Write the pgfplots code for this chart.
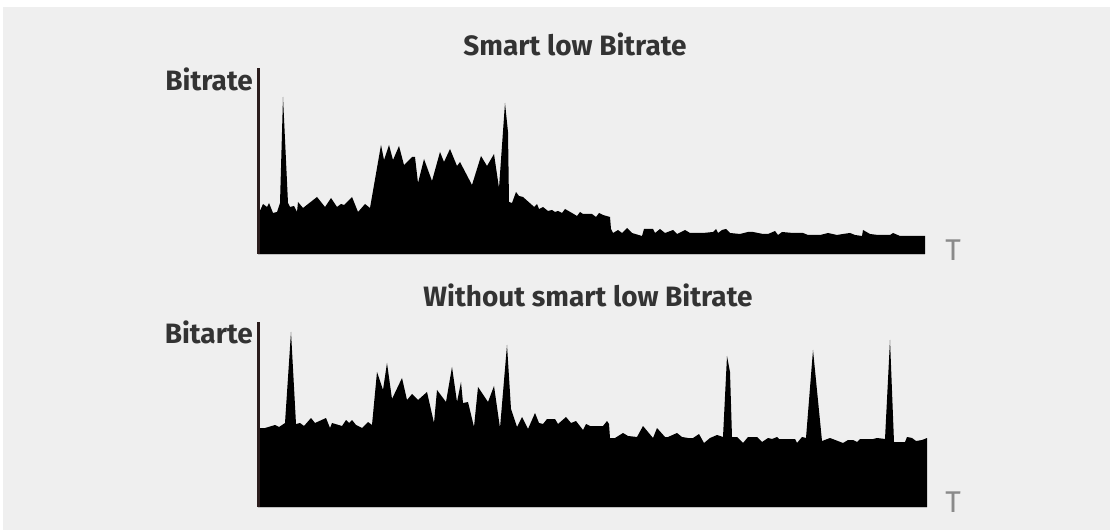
\documentclass[border=0pt]{standalone}
\usepackage{pgfplots}
\pgfplotsset{compat=1.18}
\usepackage{fontspec}
\setmainfont{Fira Sans}
\definecolor{bggray}{HTML}{EFEFEF}
\definecolor{txtgray}{HTML}{333333}
\definecolor{axbrown}{HTML}{2B1D1D}
\definecolor{tgray}{HTML}{8A8A8A}
\begin{document}
\begin{tikzpicture}[x=1pt,y=1pt]
\fill[white] (0,0) rectangle (1110,530);
\fill[bggray] (3,0) rectangle (1110,523);
\pgfplotsset{
  bitstyle/.style={
    scale only axis,
    xmin=0, ymin=0,
    axis on top,
    axis y line*=left, axis x line*=bottom,
    xtick=\empty, ytick=\empty,
    y axis line style={line width=3pt, color=axbrown},
    x axis line style={line width=0.8pt, color=black!25},
    clip=false,
    every axis y label/.style={at={(axis description cs:0,1)}, anchor=base east, inner sep=0pt, xshift=-5pt, font=\fontsize{28}{32}\selectfont\bfseries, text=txtgray},
    every axis title/.style={at={(axis description cs:0,1)}, anchor=base, inner sep=0pt, font=\fontsize{28}{32}\selectfont\bfseries, text=txtgray},
  }
}
\begin{axis}[bitstyle, at={(258pt,276pt)}, anchor=south west,
  width=667pt, height=186pt, xmax=667, ymax=186,
  ylabel={Bitrate}, ylabel style={yshift=-23pt},
  title={Smart low Bitrate}, title style={xshift=317pt, yshift=12pt}]
\addplot[fill=black, draw=none] coordinates {
(1,41)(5,50)(9,47)(11,51)(15,41)(19,42)(22,51)(25,157)(30,51)(32,47)(36,48)(39,42)(40,52)(45,46)
(59,57)(67,47)(73,56)(79,47)(83,50)(86,49)(94,57)(100,42)(107,50)(112,46)(123,109)(126,94)
(131,109)(135,94)(141,108)(146,89)(154,97)(157,97)(160,71)(166,95)(174,73)(182,102)(186,92)
(192,105)(199,88)(202,92)(214,69)(223,98)(229,88)(236,100)(241,66)(247,151)(250,122)(251,52)
(254,51)(258,62)(261,58)(265,57)(274,49)(276,47)(279,50)(281,45)(285,47)(290,43)(294,44)
(297,42)(300,43)(304,41)(307,45)(314,41)(319,38)(322,42)(325,40)(334,40)(338,37)(341,41)
(345,39)(352,37)(353,25)(355,21)(360,24)(364,21)(369,26)(374,21)(384,18)(386,25)(395,25)
(397,21)(402,25)(407,21)(415,24)(419,20)(427,24)(432,21)(437,21)(445,21)(455,22)(458,25)
(460,21)(464,24)(468,25)(472,21)(482,20)(490,22)(495,22)(505,20)(510,20)(517,23)(520,19)
(524,22)(535,21)(545,21)(550,19)(562,19)(570,21)(579,19)(585,20)(592,21)(597,19)(604,18)
(605,24)(612,20)(620,19)(632,19)(635,21)(642,18)(667,18)
} \closedcycle;
\node[anchor=base, inner sep=0pt, text=tgray, font=\fontsize{30}{34}\selectfont] at (axis cs:695,-7) {T};
\end{axis}
\begin{axis}[bitstyle, at={(258pt,23pt)}, anchor=south west,
  width=669pt, height=185pt, xmax=669, ymax=185,
  ylabel={Bitarte}, ylabel style={yshift=-22pt},
  title={Without smart low Bitrate}, title style={xshift=330pt, yshift=15pt}]
\addplot[fill=black, draw=none] coordinates {
(1,79)(7,79)(17,82)(21,80)(27,84)(33,175)(38,83)(42,84)(46,81)(53,89)(57,84)(68,89)(72,79)
(74,84)(84,81)(88,87)(91,84)(94,87)(98,82)(104,79)(110,85)(114,82)(119,135)(125,117)(129,144)
(134,108)(144,129)(149,107)(154,113)(160,107)(169,115)(176,84)(179,117)(188,105)(194,140)
(199,105)(203,125)(205,104)(210,105)(216,80)(220,120)(230,105)(236,121)(242,79)(249,162)
(253,98)(259,80)(264,90)(270,78)(277,94)(281,84)(285,83)(289,88)(297,88)(300,83)(308,90)
(313,84)(318,86)(325,77)(328,83)(332,81)(345,81)(349,86)(351,83)(352,69)(357,69)(365,74)
(370,71)(379,70)(385,81)(395,69)(399,79)(407,70)(410,70)(419,74)(424,70)(430,69)(435,69)
(441,73)(446,64)(452,69)(459,72)(465,70)(469,151)(472,135)(474,70)(479,70)(485,64)(490,70)
(499,70)(504,65)(510,69)(514,68)(519,70)(521,68)(537,68)(539,64)(544,70)(548,69)(555,157)
(564,66)(572,69)(585,64)(590,67)(595,67)(599,65)(602,68)(615,68)(619,69)(627,68)(632,167)
(636,65)(647,65)(649,70)(654,69)(658,66)(664,67)(669,69)
} \closedcycle;
\node[anchor=base, inner sep=0pt, text=tgray, font=\fontsize{30}{34}\selectfont] at (axis cs:695,-5) {T};
\end{axis}
\end{tikzpicture}
\end{document}
